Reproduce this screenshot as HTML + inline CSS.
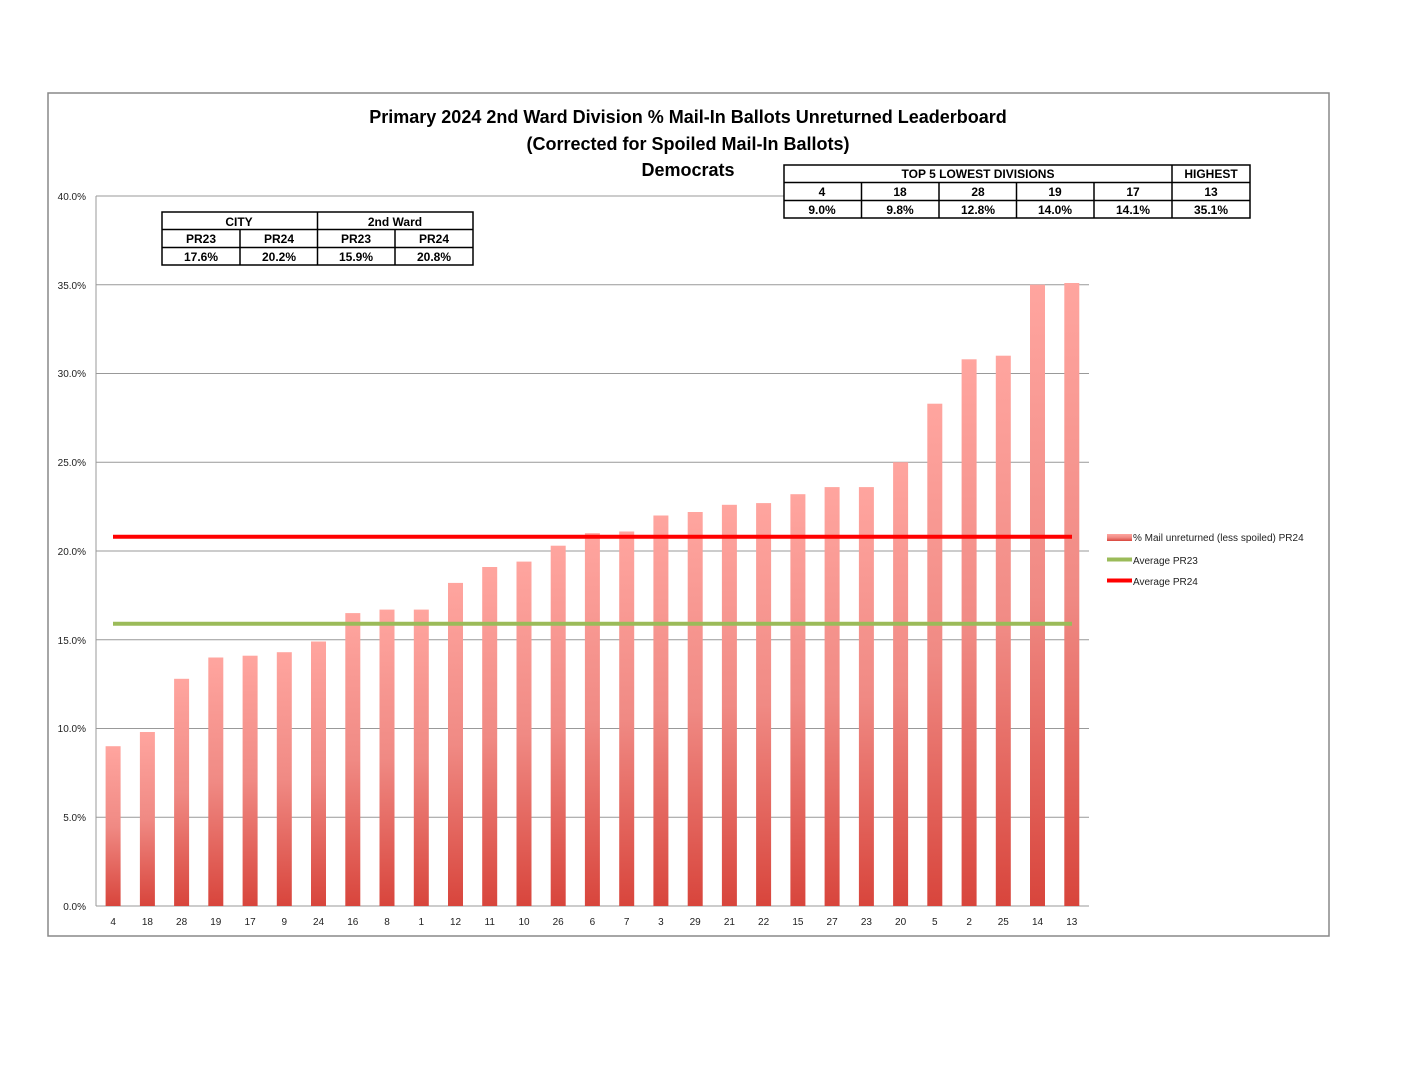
<!DOCTYPE html>
<html><head><meta charset="utf-8"><style>
body{margin:0;background:#fff;}
svg{display:block;font-family:"Liberation Sans",sans-serif;}
</style></head><body>
<svg width="1408" height="1088" xmlns="http://www.w3.org/2000/svg">
<defs><linearGradient id="g" x1="0" y1="0" x2="0" y2="1"><stop offset="0" stop-color="#ffa59f"/><stop offset="0.5" stop-color="#f08a84"/><stop offset="1" stop-color="#d8453c"/></linearGradient></defs>
<rect x="48" y="93" width="1281" height="843" fill="#fff" stroke="#888" stroke-width="1.5"/>
<g stroke="#999" stroke-width="1">
<line x1="96" y1="196" x2="1089" y2="196"/><line x1="96" y1="284.75" x2="1089" y2="284.75"/><line x1="96" y1="373.5" x2="1089" y2="373.5"/><line x1="96" y1="462.25" x2="1089" y2="462.25"/><line x1="96" y1="551" x2="1089" y2="551"/><line x1="96" y1="639.75" x2="1089" y2="639.75"/><line x1="96" y1="728.5" x2="1089" y2="728.5"/><line x1="96" y1="817.25" x2="1089" y2="817.25"/><line x1="96" y1="906" x2="1089" y2="906"/>
<line x1="96" y1="196" x2="96" y2="906"/>
</g>
<g fill="url(#g)">
<rect x="105.6" y="746.2" width="15" height="159.8"/>
<rect x="139.9" y="732" width="15" height="174"/>
<rect x="174.1" y="678.8" width="15" height="227.2"/>
<rect x="208.3" y="657.5" width="15" height="248.5"/>
<rect x="242.6" y="655.7" width="15" height="250.3"/>
<rect x="276.8" y="652.2" width="15" height="253.8"/>
<rect x="311" y="641.5" width="15" height="264.5"/>
<rect x="345.3" y="613.1" width="15" height="292.9"/>
<rect x="379.5" y="609.6" width="15" height="296.4"/>
<rect x="413.8" y="609.6" width="15" height="296.4"/>
<rect x="448" y="582.9" width="15" height="323.1"/>
<rect x="482.2" y="567" width="15" height="339"/>
<rect x="516.5" y="561.6" width="15" height="344.4"/>
<rect x="550.7" y="545.7" width="15" height="360.3"/>
<rect x="584.9" y="533.2" width="15" height="372.8"/>
<rect x="619.2" y="531.5" width="15" height="374.5"/>
<rect x="653.4" y="515.5" width="15" height="390.5"/>
<rect x="687.7" y="512" width="15" height="394"/>
<rect x="721.9" y="504.8" width="15" height="401.2"/>
<rect x="756.1" y="503.1" width="15" height="402.9"/>
<rect x="790.4" y="494.2" width="15" height="411.8"/>
<rect x="824.6" y="487.1" width="15" height="418.9"/>
<rect x="858.9" y="487.1" width="15" height="418.9"/>
<rect x="893.1" y="462.2" width="15" height="443.8"/>
<rect x="927.3" y="403.7" width="15" height="502.3"/>
<rect x="961.6" y="359.3" width="15" height="546.7"/>
<rect x="995.8" y="355.7" width="15" height="550.3"/>
<rect x="1030" y="284.7" width="15" height="621.3"/>
<rect x="1064.3" y="283" width="15" height="623"/>
</g>
<line x1="113" y1="623.8" x2="1072" y2="623.8" stroke="#9bbb59" stroke-width="4"/>
<line x1="113" y1="536.8" x2="1072" y2="536.8" stroke="#ff0000" stroke-width="4"/>
<g font-size="10" fill="#222" text-anchor="end">
<text x="86" y="200">40.0%</text><text x="86" y="289">35.0%</text><text x="86" y="377">30.0%</text><text x="86" y="466">25.0%</text><text x="86" y="555">20.0%</text><text x="86" y="644">15.0%</text><text x="86" y="732">10.0%</text><text x="86" y="821">5.0%</text><text x="86" y="910">0.0%</text>
</g>
<g font-size="10" fill="#222" text-anchor="middle">
<text x="113.1" y="925">4</text><text x="147.4" y="925">18</text><text x="181.6" y="925">28</text><text x="215.8" y="925">19</text><text x="250.1" y="925">17</text><text x="284.3" y="925">9</text><text x="318.5" y="925">24</text><text x="352.8" y="925">16</text><text x="387" y="925">8</text><text x="421.3" y="925">1</text><text x="455.5" y="925">12</text><text x="489.7" y="925">11</text><text x="524" y="925">10</text><text x="558.2" y="925">26</text><text x="592.4" y="925">6</text><text x="626.7" y="925">7</text><text x="660.9" y="925">3</text><text x="695.2" y="925">29</text><text x="729.4" y="925">21</text><text x="763.6" y="925">22</text><text x="797.9" y="925">15</text><text x="832.1" y="925">27</text><text x="866.4" y="925">23</text><text x="900.6" y="925">20</text><text x="934.8" y="925">5</text><text x="969.1" y="925">2</text><text x="1003.3" y="925">25</text><text x="1037.5" y="925">14</text><text x="1071.8" y="925">13</text>
</g>
<g font-size="18" font-weight="bold" text-anchor="middle" fill="#000">
<text x="688" y="123">Primary 2024 2nd Ward Division % Mail-In Ballots Unreturned Leaderboard</text>
<text x="688" y="150">(Corrected for Spoiled Mail-In Ballots)</text>
<text x="688" y="176">Democrats</text>
</g>
<g stroke="#000" stroke-width="1.5" fill="#fff">
<rect x="162" y="212" width="311" height="53"/>
<line x1="162" y1="229.5" x2="473" y2="229.5"/><line x1="162" y1="247.5" x2="473" y2="247.5"/>
<line x1="317.5" y1="212" x2="317.5" y2="265"/><line x1="240" y1="229.5" x2="240" y2="265"/><line x1="395" y1="229.5" x2="395" y2="265"/>
<rect x="784" y="165" width="466" height="53"/>
<line x1="784" y1="182.5" x2="1250" y2="182.5"/><line x1="784" y1="200.5" x2="1250" y2="200.5"/>
<line x1="1172" y1="165" x2="1172" y2="218"/>
<line x1="861.5" y1="182.5" x2="861.5" y2="218"/><line x1="939" y1="182.5" x2="939" y2="218"/><line x1="1016.5" y1="182.5" x2="1016.5" y2="218"/><line x1="1094" y1="182.5" x2="1094" y2="218"/>
</g>
<g font-size="12" font-weight="bold" text-anchor="middle" fill="#000">
<text x="239" y="226">CITY</text><text x="395" y="226">2nd Ward</text>
<text x="201" y="243">PR23</text><text x="279" y="243">PR24</text><text x="356" y="243">PR23</text><text x="434" y="243">PR24</text>
<text x="201" y="261">17.6%</text><text x="279" y="261">20.2%</text><text x="356" y="261">15.9%</text><text x="434" y="261">20.8%</text>
<text x="978" y="178">TOP 5 LOWEST DIVISIONS</text><text x="1211" y="178">HIGHEST</text>
<text x="822" y="196">4</text><text x="900" y="196">18</text><text x="978" y="196">28</text><text x="1055" y="196">19</text><text x="1133" y="196">17</text><text x="1211" y="196">13</text>
<text x="822" y="214">9.0%</text><text x="900" y="214">9.8%</text><text x="978" y="214">12.8%</text><text x="1055" y="214">14.0%</text><text x="1133" y="214">14.1%</text><text x="1211" y="214">35.1%</text>
</g>
<rect x="1107" y="534" width="25" height="7" fill="url(#g)"/>
<line x1="1107" y1="559.5" x2="1132" y2="559.5" stroke="#9bbb59" stroke-width="4"/>
<line x1="1107" y1="580.5" x2="1132" y2="580.5" stroke="#ff0000" stroke-width="4"/>
<g font-size="10" fill="#222">
<text x="1133" y="541">% Mail unreturned (less spoiled) PR24</text>
<text x="1133" y="564">Average PR23</text>
<text x="1133" y="585">Average PR24</text>
</g>
</svg>
</body></html>
